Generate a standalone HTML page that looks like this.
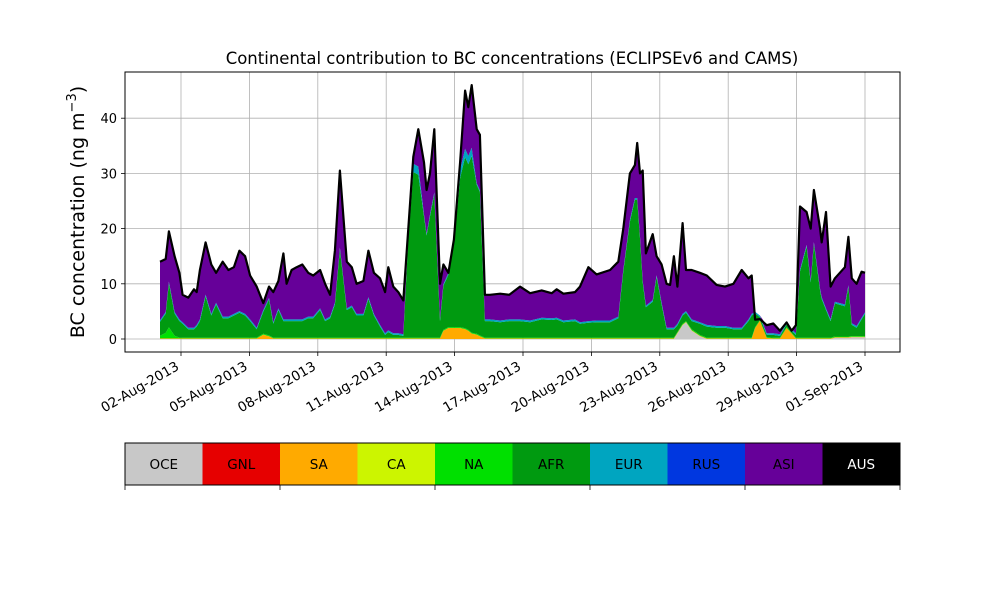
<!DOCTYPE html>
<html><head><meta charset="utf-8"><style>
html,body{margin:0;padding:0;background:#fff;}
svg{display:block;font-family:"DejaVu Sans","Liberation Sans",sans-serif;}
</style></head><body>
<svg id="chart" width="1000" height="600" viewBox="0 0 1000 600">
<text x="512" y="64" font-size="16.5" text-anchor="middle">Continental contribution to BC concentrations (ECLIPSEv6 and CAMS)</text>
<g id="grid"></g>
<g id="areas"></g>
<g id="axes"></g>
<text transform="translate(84,212) rotate(-90)" font-size="19" text-anchor="middle">BC concentration (ng m<tspan dy="-8" font-size="13">−3</tspan><tspan dy="8">)</tspan></text>
<g id="legend"></g>
</svg>
<script>
const days=[0.08,0.33,0.47,0.72,0.93,1.07,1.32,1.57,1.69,1.83,
2.08,2.33,2.54,2.83,3.08,3.32,3.56,3.81,4.03,4.32,
4.61,4.86,5.05,5.27,5.49,5.63,5.85,6.07,6.32,6.58,
6.80,7.10,7.32,7.54,7.75,7.97,8.27,8.49,8.70,9.00,
9.22,9.46,9.73,9.95,10.09,10.31,10.53,10.75,10.97,11.19,
11.41,11.66,11.77,11.92,12.11,12.36,12.51,12.73,12.97,13.24,
13.46,13.60,13.75,13.97,14.11,14.33,14.55,15.0,15.4,15.87,
16.31,16.82,17.26,17.48,17.77,18.28,18.50,18.87,19.23,19.82,
20.18,20.40,20.69,20.91,21.01,21.13,21.25,21.39,21.69,21.86,
22.08,22.30,22.45,22.62,22.77,23.00,23.15,23.40,23.76,24.06,
24.49,24.86,25.23,25.59,25.89,26.03,26.18,26.39,26.69,26.98,
27.27,27.56,27.78,27.97,28.15,28.44,28.62,28.76,29.03,29.10,
29.29,29.49,29.68,30.12,30.27,30.42,30.63,30.85,31.0];
const total=[14,14.5,19.5,15,12,8,7.5,9,8.5,12.5,
17.5,13.5,12,14,12.5,13,16,15,11.5,9.5,
6.5,9.5,8.5,10.5,15.5,10,12.5,13,13.5,12,
11.5,12.5,10,8,16,30.5,14,13,10,10.5,
16,12,11,8.5,13,9.5,8.5,7,20,33,
38,32,27,30,38,10,13.5,12,18,32,
45,42,46,38,37,8,8,8.2,8,9.5,
8.3,8.8,8.3,9,8.2,8.5,9.5,13,11.7,12.5,
14,20,30,31.5,35.5,30,30.5,15.5,19,15,
13.5,10,9.8,15,9.5,21,12.5,12.5,12,11.5,
9.8,9.5,10,12.5,11,11.5,3.5,3.6,2.5,2.8,
1.5,3,1.5,2.5,24,23,20,27,20,17.5,
23,9.5,11,13,18.5,11,10,12.2,12];
const afr=[2.5,3.5,8,4,3,2.5,1.5,1.5,2,3,
7.5,4,6,3.5,3.5,4,4.5,4,3,1.5,
4,6.5,2.5,5,3,3,3,3,3,3.5,
3.5,5,3,3.5,6,16,5,5.5,4,4,
7,4,2,0.5,1,0.5,0.5,0.3,18,30,
29.5,22,18.5,22,26,3,8,9.5,15,27,
31,30,32,27,26,3,3,2.8,3,3,
2.8,3.3,3.2,3.3,2.8,3,2.5,2.7,2.8,2.8,
3.5,12,21,25,25,18,10,5.5,6.5,11,
6,1.5,1.5,1.5,1.2,1.5,1.5,1.5,2,2,
1.8,1.8,1.5,1.5,3,4,2.5,0.5,0.4,0.5,
0.3,0.5,0.3,0.5,12,16.5,10,17,8.5,7,
5,3,6,5.5,9,2,1.5,3,4];
const sa=[0.1,0.1,0.1,0.1,0.1,0.1,0.1,0.1,0.1,0.1,
0.1,0.1,0.1,0.1,0.1,0.1,0.1,0.1,0.1,0.1,
0.8,0.5,0.1,0.1,0.1,0.1,0.1,0.1,0.1,0.1,
0.1,0.1,0.1,0.1,0.1,0.1,0.1,0.1,0.1,0.1,
0.1,0.1,0.1,0.1,0.1,0.1,0.1,0.1,0.1,0.1,
0.1,0.1,0.1,0.1,0.1,0.1,1.5,2,2,2,
1.8,1.5,1,0.8,0.5,0.1,0.1,0.1,0.1,0.1,
0.1,0.1,0.1,0.1,0.1,0.1,0.1,0.1,0.1,0.1,
0.1,0.1,0.1,0.1,0.1,0.1,0.1,0.1,0.1,0.1,
0.1,0.1,0.1,0.1,0.1,0.1,0.1,0.1,0.1,0.1,
0.1,0.1,0.1,0.1,0.1,0.1,2,3.3,0.2,0.1,
0.1,2,1,0.1,0.1,0.1,0.1,0.1,0.1,0.1,
0.1,0.1,0.1,0.1,0.1,0.1,0.1,0.1,0.1];
const oce=[0,0,0,0,0,0,0,0,0,0,
0,0,0,0,0,0,0,0,0,0,
0,0,0,0,0,0,0,0,0,0,
0,0,0,0,0,0,0,0,0,0,
0,0,0,0,0,0,0,0,0,0,
0,0,0,0,0,0,0,0,0,0,
0,0,0,0,0,0,0,0,0,0,
0,0,0,0,0,0,0,0,0,0,
0,0,0,0,0,0,0,0,0,0,
0,0,0,0,1,2.5,3,1.5,0.5,0,
0,0,0,0,0,0,0,0,0,0,
0,0,0,0,0,0,0,0,0,0,
0,0,0.2,0.2,0.2,0.3,0.3,0.3,0.3];
const na=[0.5,1,2,0.5,0.15,0.15,0.15,0.15,0.15,0.15,
0.15,0.15,0.15,0.15,0.15,0.15,0.15,0.15,0.15,0.15,
0.15,0.15,0.15,0.15,0.15,0.15,0.15,0.15,0.15,0.15,
0.15,0.15,0.15,0.15,0.15,0.15,0.15,0.15,0.15,0.15,
0.15,0.15,0.15,0.15,0.15,0.15,0.15,0.15,0.15,0.15,
0.15,0.15,0.15,0.15,0.15,0.15,0.15,0.15,0.15,0.15,
0.15,0.15,0.15,0.15,0.15,0.15,0.15,0.15,0.15,0.15,
0.15,0.15,0.15,0.15,0.15,0.15,0.15,0.15,0.15,0.15,
0.15,0.15,0.15,0.15,0.15,0.15,0.15,0.15,0.15,0.15,
0.15,0.15,0.15,0.15,0.15,0.15,0.15,0.15,0.15,0.15,
0.15,0.15,0.15,0.15,0.15,0.15,0.15,0.15,0.15,0.15,
0.15,0.15,0.15,0.15,0.15,0.15,0.15,0.15,0.15,0.15,
0.15,0.15,0.15,0.15,0.15,0.15,0.15,0.15,0.15];
const eur=[0.3,0.3,0.3,0.3,0.3,0.3,0.3,0.3,0.3,0.3,
0.3,0.3,0.3,0.3,0.3,0.3,0.3,0.3,0.3,0.3,
0.3,0.3,0.3,0.3,0.3,0.3,0.3,0.3,0.3,0.3,
0.3,0.3,0.3,0.3,0.3,0.3,0.3,0.3,0.3,0.3,
0.3,0.3,0.3,0.3,0.3,0.3,0.3,0.3,0.3,1.5,
1.5,0.3,0.3,0.3,0.3,0.3,0.3,0.3,0.3,1.5,
1.5,1.5,1.5,0.3,0.3,0.3,0.3,0.3,0.3,0.3,
0.3,0.3,0.3,0.3,0.3,0.3,0.3,0.3,0.3,0.3,
0.3,0.3,0.3,0.3,0.3,0.3,0.3,0.3,0.3,0.3,
0.3,0.3,0.3,0.3,0.3,0.3,0.3,0.3,0.3,0.3,
0.3,0.3,0.3,0.3,0.3,0.3,0.3,0.3,0.3,0.3,
0.3,0.3,0.3,0.3,0.3,0.3,0.3,0.3,0.3,0.3,
0.3,0.3,0.3,0.3,0.3,0.3,0.3,0.3,0.3];
const yTicks=[0,10,20,30,40];
const xTickDays=[1,4,7,10,13,16,19,22,25,28,31];
const xTickLabels=["02-Aug-2013","05-Aug-2013","08-Aug-2013","11-Aug-2013","14-Aug-2013","17-Aug-2013","20-Aug-2013","23-Aug-2013","26-Aug-2013","29-Aug-2013","01-Sep-2013"];
const regions=["OCE","GNL","SA","CA","NA","AFR","EUR","RUS","ASI","AUS"];
const regionColors=["#c8c8c8","#e60000","#ffaa00","#ccf500","#00e000","#009a10","#00a5c0","#0037e0","#660099","#000000"];

const NS="http://www.w3.org/2000/svg";
const L=125,R=900,T=72,B=352;
function xs(d){return 181+(d-1)*22.8;}
function ys(v){return 339-v*5.52;}
function mk(tag,attrs,parent){const e=document.createElementNS(NS,tag);for(const k in attrs)e.setAttribute(k,attrs[k]);parent.appendChild(e);return e;}
const grid=document.getElementById('grid'),axes=document.getElementById('axes'),areas=document.getElementById('areas'),legend=document.getElementById('legend');

yTicks.forEach(v=>{
  const g=mk('line',{x1:L,x2:R,y1:ys(v),y2:ys(v),stroke:'#b0b0b0','stroke-width':0.8},grid);
  
  
  const t=mk('line',{x1:L-4,x2:L,y1:ys(v),y2:ys(v),stroke:'#000','stroke-width':0.8},axes);
  
  
  const lb=mk('text',{x:L-8,y:ys(v)+5,'font-size':13,'text-anchor':'end'},axes);
  lb.textContent=v;
  
  
});
xTickDays.forEach((d,i)=>{
  const x=xs(d);
  const g=mk('line',{x1:x,x2:x,y1:T,y2:B,stroke:'#b0b0b0','stroke-width':0.8},grid);
  
  
  const t=mk('line',{x1:x,x2:x,y1:B,y2:B+4,stroke:'#000','stroke-width':0.8},axes);
  
  
  const lb=mk('text',{transform:`translate(${x-1},${B+17}) rotate(-30)`,'font-size':13.5,'text-anchor':'end'},axes);
  lb.textContent=xTickLabels[i];
  
  
});

const comps=[oce,sa,na,afr,eur];
const compIdx=[0,2,4,5,6];
const asi=total.map((t,i)=>Math.max(0,t-comps.reduce((s,c)=>s+c[i],0)));
const layers=comps.concat([asi]);
const layerIdx=compIdx.concat([8]);
let base=days.map(()=>0);
layers.forEach((arr,li)=>{
  const top=base.map((b,i)=>b+arr[i]);
  let d='M'+days.map((dd,i)=>xs(dd).toFixed(1)+','+ys(top[i]).toFixed(1)).join('L');
  for(let i=days.length-1;i>=0;i--)d+='L'+xs(days[i]).toFixed(1)+','+ys(base[i]).toFixed(1);
  d+='Z';
  const p=mk('path',{d:d,fill:regionColors[layerIdx[li]],stroke:'none'},areas);
  
  
  base=top;
});
const line=mk('path',{d:'M'+days.map((dd,i)=>xs(dd).toFixed(1)+','+ys(total[i]).toFixed(1)).join('L'),fill:'none',stroke:'#000','stroke-width':2.2,'stroke-linejoin':'round'},areas);


const frame=mk('rect',{x:L,y:T,width:R-L,height:B-T,fill:'none',stroke:'#000','stroke-width':1},axes);



const cw=(R-L)/regions.length;
regions.forEach((r,i)=>{
  const rc=mk('rect',{x:L+i*cw,y:443,width:cw+0.5,height:42,fill:regionColors[i]},legend);
  
  
  const t=mk('text',{x:L+i*cw+cw/2,y:469,'font-size':13.5,'text-anchor':'middle',fill:r==='AUS'?'#fff':'#000'},legend);
  t.textContent=r;
  
  
});
const lf=mk('rect',{x:L,y:443,width:R-L,height:42,fill:'none',stroke:'#000','stroke-width':1},legend);


[0,2,4,6,8,10].forEach(k=>{
  const t=mk('line',{x1:L+k*cw,x2:L+k*cw,y1:485,y2:490,stroke:'#000','stroke-width':0.8},legend);
  
  
});
</script>
</body></html>
